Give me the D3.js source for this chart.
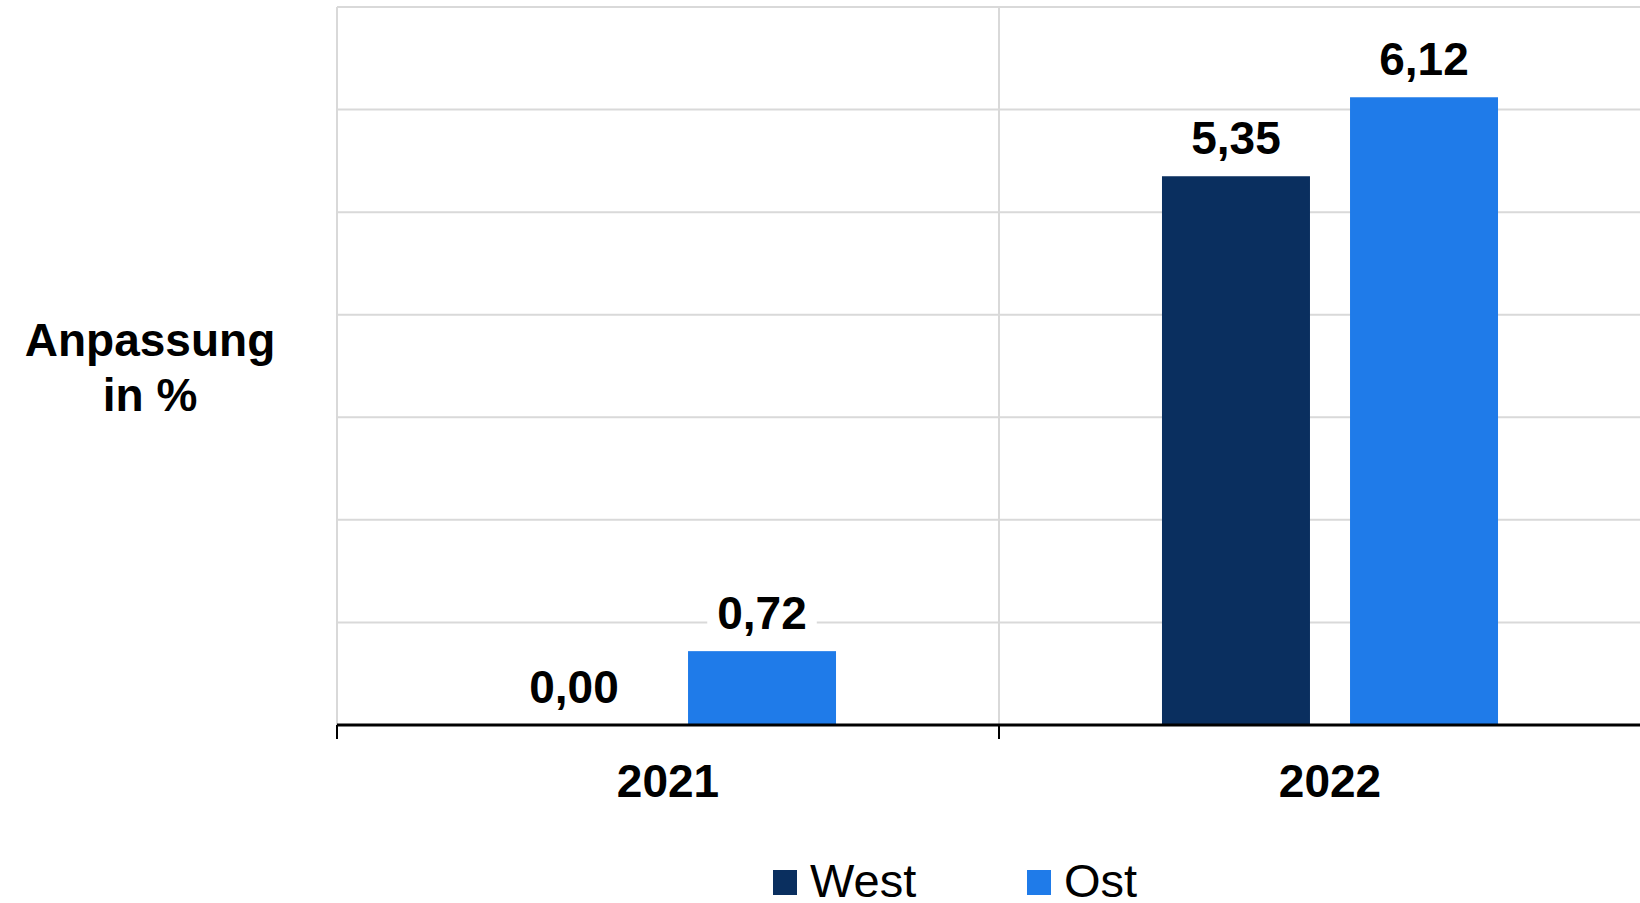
<!DOCTYPE html>
<html lang="de">
<head>
    <meta charset="UTF-8">
    <title>Anpassung</title>
    <script src="https://cdn.jsdelivr.net/npm/d3@7"></script>
    <style>
        body { margin: 0; background: #fff; }
        text { font-family: "Liberation Sans", Arial, sans-serif; }
    </style>
</head>
<body>
<script type="text/javascript">
    var years = ['2021', '2022'];
    var series = ['West', 'Ost'];
    var westValues = [0.00, 5.35];
    var ostValues = [0.72, 6.12];
    var yTicks = [0, 1, 2, 3, 4, 5, 6, 7];
    var colors = ['#0a2f5f', '#1f7be9'];

    var width = 1640;
    var height = 903;
    var svg = d3.select('body').append('svg')
            .attr('width', width)
            .attr('height', height);

    var plotLeft = 337, plotRight = 1661, plotTop = 7, plotBottom = 725;

    var x0 = d3.scaleBand()
            .domain(years)
            .range([plotLeft, plotRight])
            .paddingInner(0.4924)
            .paddingOuter(0.2462);
    var x1 = d3.scaleBand()
            .domain(series)
            .range([0, x0.bandwidth()])
            .paddingInner(0.213);
    var y = d3.scaleLinear()
            .domain([0, 7])
            .range([plotBottom, plotTop]);

    var fmt = function (v) {
        return v.toFixed(2).replace('.', ',');
    };

    // horizontal gridlines
    svg.append('g')
            .selectAll('line')
            .data(yTicks.slice(1))
            .enter()
            .append('line')
            .attr('x1', plotLeft)
            .attr('x2', width)
            .attr('y1', function (d) { return y(d); })
            .attr('y2', function (d) { return y(d); })
            .attr('stroke', '#d9d9d9')
            .attr('stroke-width', 2);

    // vertical gridlines at category boundaries
    var bounds = [plotLeft, x0.step() + plotLeft];
    svg.append('g')
            .selectAll('line')
            .data(bounds)
            .enter()
            .append('line')
            .attr('x1', function (d) { return d; })
            .attr('x2', function (d) { return d; })
            .attr('y1', plotTop)
            .attr('y2', plotBottom)
            .attr('stroke', '#d9d9d9')
            .attr('stroke-width', 2);

    var data = years.map(function (yr, i) {
        return { year: yr, values: [westValues[i], ostValues[i]] };
    });

    var groups = svg.selectAll('g.grp')
            .data(data)
            .enter()
            .append('g')
            .attr('class', 'grp')
            .attr('transform', function (d) {
                return 'translate(' + x0(d.year) + ',0)';
            });

    groups.selectAll('rect')
            .data(function (d) { return d.values; })
            .enter()
            .append('rect')
            .attr('x', function (d, i) { return x1(series[i]); })
            .attr('y', function (d) { return y(d); })
            .attr('width', x1.bandwidth())
            .attr('height', function (d) { return y(0) - y(d); })
            .attr('fill', function (d, i) { return colors[i]; });

    // value labels with white box
    var labels = groups.selectAll('g.lbl')
            .data(function (d) { return d.values; })
            .enter()
            .append('g')
            .attr('class', 'lbl')
            .attr('transform', function (d, i) {
                return 'translate(' + (x1(series[i]) + x1.bandwidth() / 2) + ',' + (y(d) - 22) + ')';
            });
    labels.append('rect')
            .attr('fill', '#fff');
    labels.append('text')
            .attr('text-anchor', 'middle')
            .attr('font-size', 46)
            .attr('font-weight', 'bold')
            .attr('fill', '#000')
            .text(function (d) { return fmt(d); });
    labels.each(function () {
        var g = d3.select(this);
        var bb = g.select('text').node().getBBox();
        g.select('rect')
                .attr('x', bb.x - 10)
                .attr('y', bb.y)
                .attr('width', bb.width + 20)
                .attr('height', bb.height);
    });

    // x axis
    var xAxis = svg.append('g')
            .attr('transform', 'translate(0,' + plotBottom + ')');
    xAxis.append('line')
            .attr('x1', plotLeft)
            .attr('x2', width)
            .attr('stroke', '#000')
            .attr('stroke-width', 3);
    xAxis.selectAll('line.tick')
            .data(bounds)
            .enter()
            .append('line')
            .attr('class', 'tick')
            .attr('x1', function (d) { return d; })
            .attr('x2', function (d) { return d; })
            .attr('y1', 0)
            .attr('y2', 14)
            .attr('stroke', '#000')
            .attr('stroke-width', 2);
    xAxis.selectAll('text')
            .data(years)
            .enter()
            .append('text')
            .attr('x', function (d) { return x0(d) + x0.bandwidth() / 2; })
            .attr('y', 72)
            .attr('text-anchor', 'middle')
            .attr('font-size', 46)
            .attr('font-weight', 'bold')
            .text(function (d) { return d; });

    // y title
    var title = svg.append('text')
            .attr('text-anchor', 'middle')
            .attr('font-size', 46)
            .attr('font-weight', 'bold');
    title.append('tspan').attr('x', 150).attr('y', 356).text('Anpassung');
    title.append('tspan').attr('x', 150).attr('y', 411).text('in %');

    // legend
    var legendX = [773, 1027];
    var legend = svg.selectAll('g.leg')
            .data(series)
            .enter()
            .append('g')
            .attr('class', 'leg')
            .attr('transform', function (d, i) {
                return 'translate(' + legendX[i] + ',870)';
            });
    legend.append('rect')
            .attr('width', 24)
            .attr('height', 25)
            .attr('fill', function (d, i) { return colors[i]; });
    legend.append('text')
            .attr('x', 37)
            .attr('y', 27)
            .attr('font-size', 47)
            .text(function (d) { return d; });
</script>
</body>
</html>
